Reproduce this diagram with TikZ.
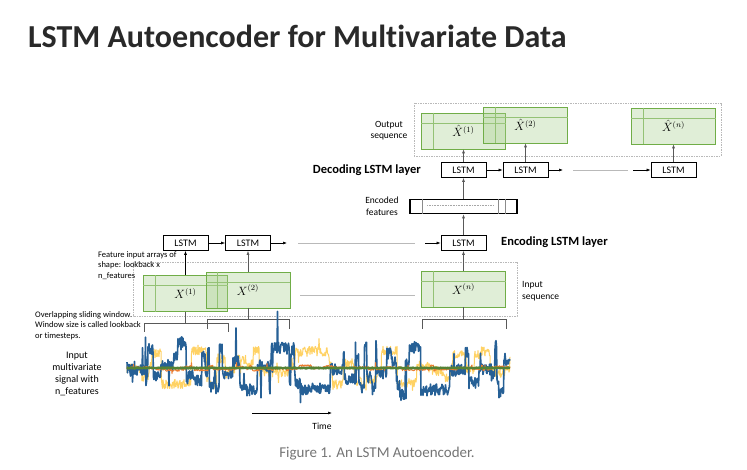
\documentclass[tikz,border=0pt]{standalone}
\usepackage{fontspec}
\setmainfont{Carlito}[Ligatures=NoCommon]
\usetikzlibrary{arrows.meta,calc}

\definecolor{cellgreen}{RGB}{112,173,71}
\definecolor{cellfill}{RGB}{169,208,142}
\definecolor{linegray}{RGB}{89,89,89}
\definecolor{dotgray}{RGB}{185,185,185}
\definecolor{sigblue}{RGB}{38,96,150}
\definecolor{sigyellow}{RGB}{255,210,100}
\definecolor{sigorange}{RGB}{237,125,49}
\definecolor{siggreen}{RGB}{84,130,53}
\definecolor{titlegray}{RGB}{41,41,41}
\definecolor{captiongray}{RGB}{117,117,117}

\tikzset{
  lstm/.style={draw, line width=0.7pt, minimum width=45pt, minimum height=15pt,
    inner sep=0pt, font=\fontsize{10}{12}\selectfont},
  cell/.style={draw=cellgreen, line width=0.6pt, fill=cellfill, fill opacity=0.35,
    text opacity=1, minimum width=84pt, minimum height=36pt, inner sep=0pt,
    font=\fontsize{12}{14}\selectfont},
  flow/.style={-{Latex[length=4pt,width=3pt]}, line width=0.6pt},
  feed/.style={flow, draw=linegray},
  gap/.style={dotgray, line width=0.5pt},
  seqbox/.style={dotgray, dash pattern=on 1.5pt off 1pt, line width=0.6pt},
  note/.style={align=left, font=\fontsize{8.5}{10.7}\selectfont, inner sep=0pt},
  layer/.style={font=\bfseries\fontsize{12.5}{14}\selectfont, inner sep=0pt},
  tag/.style={align=center, font=\fontsize{9.5}{11.5}\selectfont, inner sep=0pt},
  bracket/.style={linegray, line width=0.8pt},
}

% thin grid lines inside a feature array cell
\newcommand\cellgrid[1]{%
  \draw[cellgreen!75, line width=0.5pt]
    ($(#1.north west)+(12,0)$) -- ($(#1.south west)+(12,0)$)
    ($(#1.north west)+(0,10.5)$) -- ($(#1.north east)+(0,10.5)$);}
% label of a cell, set a little below its middle
\newcommand\celltext[1]{\raisebox{-3pt}{#1}}

% random step-like signal, two samples per unit: #1 list macro, #2 jump probability,
% #3 level amplitude, #4 noise amplitude, #5 spike probability, #6 spike amplitude
\newcommand\makesignal[6]{%
  \gdef#1{}\gdef\siglvl{0}%
  \foreach \i in {0,...,766}{%
    \pgfmathsetmacro\sr{rnd}%
    \ifdim\sr pt<#2pt \pgfmathsetmacro\snl{(rnd-0.5)*2*#3}\xdef\siglvl{\snl}\fi
    \pgfmathsetmacro\ssp{rnd<#5 ? (rnd-0.5)*2*#6 : 0}%
    \pgfmathsetmacro\syy{368+\siglvl+(rnd-0.5)*2*#4+\ssp}%
    \pgfmathsetmacro\sxx{127+\i/2}%
    \xdef#1{#1 (\sxx,\syy)}%
  }}

\begin{document}
\begin{tikzpicture}[x=1pt, y=-1pt]
\fill[white] (0,0) rectangle (747,470);
\useasboundingbox (0,0) rectangle (747,470);

% heading and caption
\node[anchor=base west, inner sep=0pt, text=titlegray,
  font=\bfseries\fontsize{32}{36}\selectfont] (title) at (28,48)
  {LSTM Autoencoder for Multivariate Data};
\node[anchor=base, inner sep=0pt, text=captiongray,
  font=\fontsize{15}{17}\selectfont] (caption) at (377,457)
  {Figure 1. An LSTM Autoencoder.};

% sequence frames
\draw[seqbox] (414,103) rectangle (721,156);
\draw[seqbox] (133,262) rectangle (517,316);

% output sequence
\node[cell] (xh1) at (463.5,131) {\celltext{$\hat{X}^{(1)}$}};
\cellgrid{xh1}
\node[cell] (xh2) at (525.5,125) {\celltext{$\hat{X}^{(2)}$}};
\cellgrid{xh2}
\node[cell] (xhn) at (673.5,126) {\celltext{$\hat{X}^{(n)}$}};
\cellgrid{xhn}
\node[tag] (outlbl) at (389,130.5) {Output\\sequence};

% decoding layer
\node[lstm] (dec1) at (463.5,170) {LSTM};
\node[lstm] (dec2) at (525.5,170) {LSTM};
\node[lstm] (dec3) at (673.5,170) {LSTM};
\node[layer, anchor=east] (declbl) at (421,170) {Decoding LSTM layer};
\coordinate (d2end) at (563,170);
\coordinate (dgap0) at (573,170);
\coordinate (dgap1) at (628,170);
\coordinate (d3start) at (633,170);
\draw[flow] (dec1) -- (dec2);
\draw[flow] (dec2) -- (d2end);
\draw[gap] (dgap0) -- (dgap1);
\draw[flow] (d3start) -- (dec3);
\draw[feed] (dec1) -- (xh1);
\draw[feed] (dec2) -- (xh2);
\draw[feed] (dec3) -- (xhn);

% encoded features
\node[draw, line width=1.6pt, minimum width=107pt, minimum height=14pt, inner sep=0pt]
  (code) at (463.5,206.5) {};
\draw[linegray!70, line width=0.4pt]
  ($(code.north west)+(13,0)$) -- ($(code.south west)+(13,0)$)
  ($(code.north east)+(-20,0)$) -- ($(code.south east)+(-20,0)$)
  ($(code.north east)+(-13,0)$) -- ($(code.south east)+(-13,0)$);
\draw[gray!70, line width=0.3pt, dash pattern=on 1pt off 0.6pt]
  ($(code.west)+(18,-1)$) -- ($(code.east)+(-24,-1)$);
\node[tag] (codelbl) at (382,206) {Encoded\\features};
\draw[feed] (code) -- (dec1);

% encoding layer
\node[lstm] (enc1) at (185.5,243) {LSTM};
\node[lstm] (enc2) at (248,243) {LSTM};
\node[lstm] (enc3) at (463.5,243) {LSTM};
\node[layer, anchor=west] (enclbl) at (501,242) {Encoding LSTM layer};
\coordinate (e2end) at (287,243);
\coordinate (egap0) at (298,243);
\coordinate (egap1) at (415,243);
\coordinate (e3start) at (425,243);
\draw[flow] (enc1) -- (enc2);
\draw[flow] (enc2) -- (e2end);
\draw[gap] (egap0) -- (egap1);
\draw[flow] (e3start) -- (enc3);
\draw[feed] (enc3) -- (code);

% input sequence
\node[cell] (x1) at (185.5,293.5) {\celltext{$X^{(1)}$}};
\cellgrid{x1}
\node[cell] (x2) at (248,290) {\celltext{$X^{(2)}$}};
\cellgrid{x2}
\node[cell] (xn) at (463.5,289) {\celltext{$X^{(n)}$}};
\cellgrid{xn}
\coordinate (xgap0) at (300,295);
\coordinate (xgap1) at (415,295);
\draw[gap] (xgap0) -- (xgap1);
\draw[flow] (x1) -- (enc1);
\draw[feed] (x2) -- (enc2);
\draw[feed] (xn) -- (enc3);
\node[tag, anchor=west, align=left] (inlbl) at (522,291) {Input\\sequence};
\node[note, anchor=north west] (featlbl) at (98,251)
  {Feature input arrays of\\shape: lookback x\\n\_features};

% sliding windows
\coordinate (w1) at (185.5,323);
\coordinate (w2) at (248,319);
\coordinate (wn) at (463.5,319);
\draw[bracket] (x1.south) -- (w1);
\draw[bracket] (x2.south) -- (w2);
\draw[bracket] (xn.south) -- (wn);
\draw[bracket] (144,332) -- (144,323) -- (228,323) -- (228,332);
\draw[bracket] (207,329) -- (207,319) -- (289,319) -- (289,329);
\draw[bracket] (422,329) -- (422,319) -- (506,319) -- (506,329);
\node[note, anchor=north west] (winlbl) at (35,311)
  {Overlapping sliding window.\\Window size is called lookback\\or timesteps.};

% multivariate signal
\pgfmathsetseed{4217}
\makesignal{\yellowpts}{0.07}{18}{5}{0.02}{15}
\makesignal{\bluepts}{0.08}{27}{6}{0.03}{42}
\makesignal{\orangepts}{0.05}{2.5}{1.2}{0.02}{6}
\makesignal{\greenpts}{0}{0}{0.5}{0}{0}
\edef\sigdraw{%
  \noexpand\draw[sigyellow, line width=1pt, line join=round] plot coordinates {\yellowpts};
  \noexpand\draw[sigblue, line width=1.6pt, line join=round] plot coordinates {\bluepts};
  \noexpand\draw[sigorange, line width=0.9pt, line join=round] plot coordinates {\orangepts};
  \noexpand\draw[siggreen, line width=2.4pt, line join=round] plot coordinates {\greenpts};}
\sigdraw
\node[tag, font=\fontsize{10}{12}\selectfont] (siglbl) at (77,373.5)
  {Input\\multivariate\\signal with\\n\_features};

% time axis
\coordinate (t0) at (252,413);
\coordinate (t1) at (332,413);
\draw[flow] (t0) -- (t1);
\node[tag] (timelbl) at (322,426) {Time};
\end{tikzpicture}
\end{document}
